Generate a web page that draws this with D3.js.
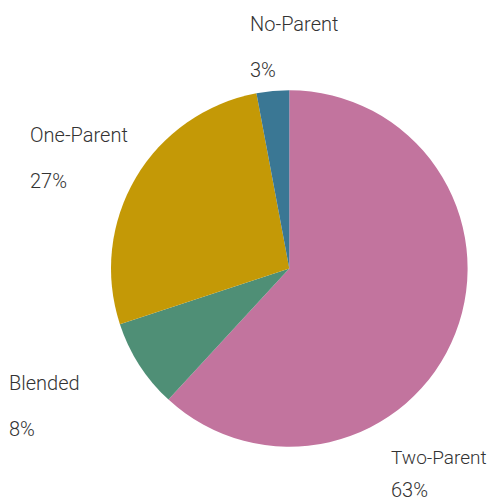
<!DOCTYPE html>
<html>
<head>
<meta charset="utf-8">
<script src="https://cdn.jsdelivr.net/npm/d3@7"></script>
<style>
  html, body { margin: 0; padding: 0; background: #fff; }
  svg { display: block; }
  text { font-family: Roboto, "Helvetica Neue", Arial, sans-serif; font-weight: 300; fill: #333; }
</style>
</head>
<body>
<svg id="chart" width="488" height="502"></svg>
<script>
// Data
const categories = ["Two-Parent", "Blended", "One-Parent", "No-Parent"];
const values = [61.85, 8.1, 27.1, 2.95];
const percentLabels = ["63%", "8%", "27%", "3%"];
const colors = ["#C2749E", "#4F8F76", "#C49906", "#3A7794"];

// Layout (label anchor points, pixels)
const labelPos = [
  { x: 391, y: 464, gap: 33, size: 19 },
  { x: 9,   y: 390, gap: 46, size: 20 },
  { x: 30,  y: 142, gap: 46, size: 20 },
  { x: 250, y: 31,  gap: 46, size: 20 }
];

const cx = 289.3, cy = 268.5, radius = 178.3;

const svg = d3.select("#chart");
const g = svg.append("g").attr("transform", `translate(${cx},${cy})`);

const pie = d3.pie().sort(null).value(d => d.value);
const arc = d3.arc().innerRadius(0).outerRadius(radius);

const data = categories.map((c, i) => ({ name: c, value: values[i], pct: percentLabels[i], color: colors[i], pos: labelPos[i] }));

g.selectAll("path")
  .data(pie(data))
  .join("path")
  .attr("d", arc)
  .attr("fill", d => d.data.color);

const labels = svg.selectAll("g.label")
  .data(data)
  .join("g")
  .attr("class", "label")
  .attr("transform", d => `translate(${d.pos.x},${d.pos.y})`);

labels.append("text")
  .attr("font-size", d => d.pos.size)
  .text(d => d.name);

labels.append("text")
  .attr("y", d => d.pos.gap)
  .attr("font-size", 20)
  .text(d => d.pct);
</script>
</body>
</html>
